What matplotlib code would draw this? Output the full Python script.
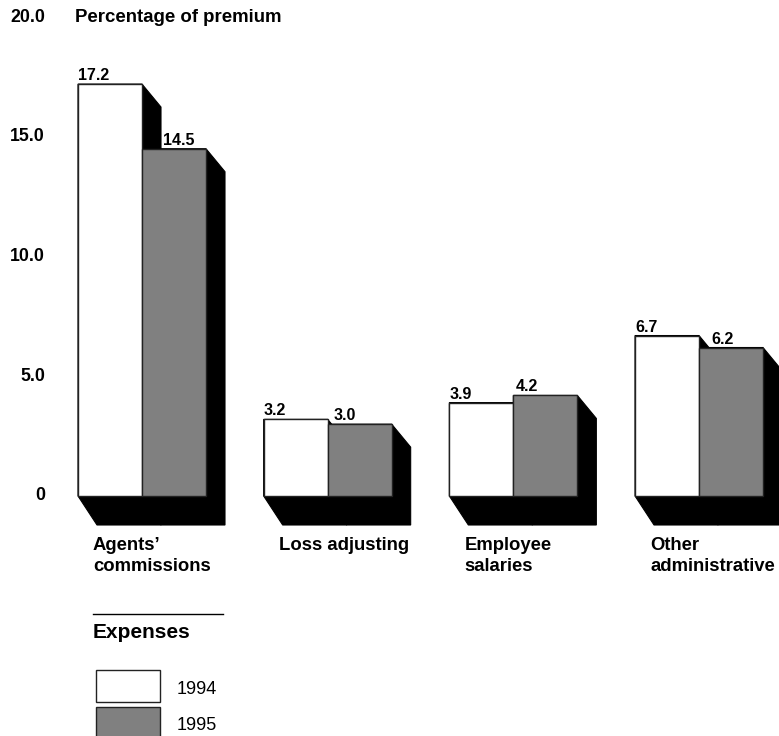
import matplotlib
matplotlib.use("Agg")
import matplotlib.pyplot as plt
import matplotlib.transforms as mtransforms
from matplotlib.patches import Polygon, Rectangle
from matplotlib.lines import Line2D

plt.rcParams['font.family'] = ['Liberation Sans', 'DejaVu Sans']

# Data
categories = ["Agents\u2019\ncommissions", "Loss adjusting", "Employee\nsalaries", "Other\nadministrative"]
series_names = ["1994", "1995"]
values_1994 = [17.2, 3.2, 3.9, 6.7]
values_1995 = [14.5, 3.0, 4.2, 6.2]
tick_values = [0, 5, 10, 15, 20]
tick_labels = ["0", "5.0", "10.0", "15.0", "20.0"]
y_title = "Percentage of premium"
legend_title = "Expenses"

W, H = 779, 736
fig = plt.figure(figsize=(W / 100, H / 100), dpi=100)
ax = fig.add_axes([0, 0, 1, 1])
ax.set_axis_off()

# Scale: one group per unit on x, percentage on y
px_per_group = 185.67
px_per_unit = 23.95
x0_px = 78.0
zero_px = 496.0
ax.set_xlim(-x0_px / px_per_group, (W - x0_px) / px_per_group)
ax.set_ylim(-(H - zero_px) / px_per_unit, zero_px / px_per_unit)

bar_w = 64 / px_per_group
dx = 19 / px_per_group          # extrusion to the right
dy_top = 23 / px_per_unit       # drop of the shadow at the top
dy_bot = 29 / px_per_unit       # depth of the floor shadow

white = "#ffffff"
grey = "#808080"
edge = "#222222"

def shadow(xl, xr, v):
    pts = [(xl, v), (xr, v), (xr + dx, v - dy_top), (xr + dx, -dy_bot),
           (xl + dx, -dy_bot), (xl, 0)]
    ax.add_patch(Polygon(pts, closed=True, facecolor="black", edgecolor="black",
                         linewidth=0.8, zorder=1))

for i, (a, b) in enumerate(zip(values_1994, values_1995)):
    xw = i
    xg = i + bar_w
    shadow(xw, xw + bar_w, a)
    shadow(xg, xg + bar_w, b)

ax.bar([i for i in range(len(categories))], values_1994, width=bar_w, align="edge",
       color=white, edgecolor=edge, linewidth=1.0, zorder=2)
ax.bar([i + bar_w for i in range(len(categories))], values_1995, width=bar_w, align="edge",
       color=grey, edgecolor=edge, linewidth=1.0, zorder=3)

# Value labels
for i, (a, b) in enumerate(zip(values_1994, values_1995)):
    ax.annotate(f"{a:.1f}", (i, a), xytext=(0, 4), textcoords="offset pixels",
                ha="left", va="baseline", fontsize=11.5, fontweight="bold", zorder=5)
    frac = min(1.0, max(0.0, (a - b) / dy_top))
    xg = i + bar_w + dx * frac
    ax.annotate(f"{b:.1f}", (xg, b), xytext=(2, 4), textcoords="offset pixels",
                ha="left", va="baseline", fontsize=11.5, fontweight="bold", zorder=5)

# Category labels
for i, name in enumerate(categories):
    ax.annotate(name, (i, 0), xytext=(15, -41), textcoords="offset pixels",
                ha="left", va="top", fontsize=13.3, fontweight="bold",
                linespacing=1.3)

# Value axis labels
trans = mtransforms.blended_transform_factory(fig.transFigure, ax.transData)
for v, lab in zip(tick_values, tick_labels):
    ax.text(45 / W, v, lab, transform=trans, ha="right", va="center",
            fontsize=12.8, fontweight="bold")
ax.text(75 / W, tick_values[-1], y_title, transform=trans, ha="left", va="center",
        fontsize=13.4, fontweight="bold")

# Legend
def fx(px):
    return px / W

def fy(py):
    return 1 - py / H

fig.add_artist(Line2D([fx(93), fx(223)], [fy(614), fy(614)], color="black",
                      linewidth=1.0, transform=fig.transFigure))
fig.text(fx(93), fy(632), legend_title, ha="left", va="center",
         fontsize=15, fontweight="bold")
for k, (name, col, top, bot) in enumerate([(series_names[0], white, 670, 702),
                                            (series_names[1], grey, 707, 742)]):
    fig.add_artist(Rectangle((fx(96), fy(bot)), fx(160) - fx(96), fy(top) - fy(bot),
                             facecolor=col, edgecolor=edge, linewidth=1.0,
                             transform=fig.transFigure))
    fig.text(fx(177), fy(top + 19), name, ha="left", va="center", fontsize=13)

fig.savefig("out.png", dpi=100)
